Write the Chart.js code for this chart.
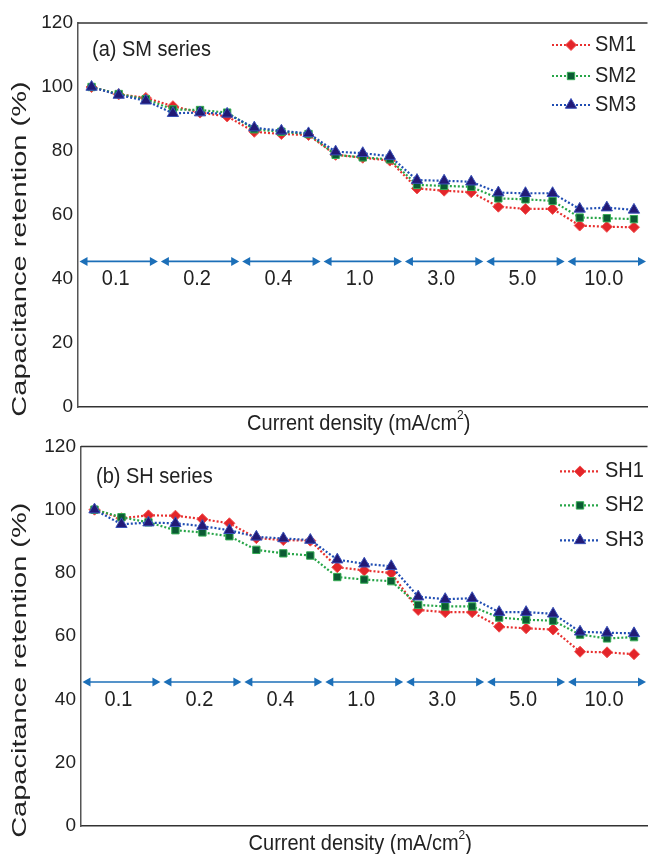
<!DOCTYPE html>
<html>
<head>
<meta charset="utf-8">
<script src="https://cdn.jsdelivr.net/npm/chart.js@4.4.1/dist/chart.umd.min.js"></script>
<style>
  html, body { margin: 0; padding: 0; background: #fff; }
  .panel { position: absolute; left: 0; width: 655px; }
  #p1 { top: 0; height: 445px; z-index: 2; }
  #p2 { top: 430px; height: 424px; z-index: 1; }
</style>
</head>
<body>
<div class="panel" id="p1"><canvas id="c1" width="655" height="445"></canvas></div>
<div class="panel" id="p2"><canvas id="c2" width="655" height="424"></canvas></div>
<script>
// ---- data ----
const densities = ["0.1", "0.2", "0.4", "1.0", "3.0", "5.0", "10.0"];
const cyclesPerDensity = 3;
const yTicks = [0, 20, 40, 60, 80, 100, 120];

const SM1 = [100, 97.7, 96.6, 94.0, 92.0, 90.8, 86.0, 85.3, 85.0, 78.8, 77.9, 77.0, 68.3, 67.6, 67.1, 62.6, 61.9, 61.9, 56.7, 56.3, 56.2];
const SM2 = [100, 97.8, 96.2, 93.0, 92.8, 92.0, 86.8, 86.0, 85.3, 78.8, 78.0, 77.4, 69.4, 69.1, 68.8, 65.2, 64.9, 64.4, 59.2, 59.0, 58.7];
const SM3 = [100, 97.5, 95.7, 91.8, 92.0, 91.6, 87.3, 86.3, 85.5, 79.8, 79.3, 78.4, 70.9, 70.7, 70.4, 67.0, 66.8, 66.8, 61.9, 62.3, 61.6];

const SH1 = [100, 97.3, 98.2, 98.1, 97.0, 95.7, 91.0, 90.4, 90.2, 81.8, 80.8, 80.0, 68.3, 67.6, 67.6, 63.0, 62.5, 62.1, 55.1, 54.9, 54.3];
const SH2 = [100, 97.6, 96.0, 93.5, 92.8, 91.6, 87.3, 86.2, 85.5, 78.7, 77.9, 77.4, 69.9, 69.4, 69.4, 65.9, 65.2, 64.9, 60.5, 59.3, 59.7];
const SH3 = [100, 95.4, 95.9, 95.7, 94.8, 93.5, 91.4, 90.9, 90.4, 84.2, 82.9, 82.1, 72.5, 71.7, 72.0, 67.6, 67.6, 67.1, 61.4, 61.1, 60.9];

const seriesNamesA = ["SM1", "SM2", "SM3"];
const seriesNamesB = ["SH1", "SH2", "SH3"];
const arrowLevel = 45.5;
const densityLabelLevel = 40;

// ---- styles ----
const FONT = '"Liberation Sans", Arial, sans-serif';
const TXT = 20;
const SY = 1.1;
const styles = [
  { line: '#e8302f', fill: '#e3252a', border: '#f0504f', shape: 'rectRot', r: 5.5, order: 3 },
  { line: '#27a548', fill: '#0b5a33', border: '#36ad55', shape: 'rect', r: 5.2, order: 2 },
  { line: '#1f4db3', fill: '#221a76', border: '#3850b8', shape: 'triangle', r: 6.5, order: 1 }
];
const arrowColor = '#1c6fb8';

function makeDatasets(names, arrays) {
  return arrays.map((arr, i) => ({
    label: names[i],
    data: arr.map((v, k) => ({ x: k, y: v })),
    borderColor: styles[i].line,
    borderWidth: 2.2,
    borderDash: [2, 2],
    pointStyle: styles[i].shape,
    pointRadius: styles[i].r,
    pointBackgroundColor: styles[i].fill,
    pointBorderColor: styles[i].border,
    pointBorderWidth: 1,
    tension: 0,
    order: styles[i].order,
    fill: false
  }));
}

function drawMarker(ctx, st, x, y) {
  ctx.save();
  ctx.fillStyle = st.fill;
  ctx.strokeStyle = st.border;
  ctx.lineWidth = 1;
  if (Chart.helpers && Chart.helpers.drawPoint) {
    Chart.helpers.drawPoint(ctx, { pointStyle: st.shape, radius: st.r, rotation: 0, borderWidth: 1 }, x, y);
  }
  ctx.restore();
}

function stretchedText(ctx, text, x, y, align, sy) {
  ctx.save();
  ctx.translate(x, y);
  ctx.scale(1, sy);
  ctx.textAlign = align;
  ctx.textBaseline = 'middle';
  ctx.fillText(text, 0, 0);
  ctx.restore();
}

function panelPlugin(cfg) {
  return {
    id: 'panel' + cfg.tag,
    afterDraw(chart) {
      const ctx = chart.ctx;
      const area = chart.chartArea;
      const xs = chart.scales.x, ys = chart.scales.y;
      ctx.save();
      // top border
      ctx.strokeStyle = '#333';
      ctx.lineWidth = 1.5;
      ctx.beginPath();
      ctx.moveTo(area.left, area.top);
      ctx.lineTo(area.right, area.top);
      ctx.stroke();

      // density arrows
      const ay = ys.getPixelForValue(arrowLevel);
      const ly = ys.getPixelForValue(densityLabelLevel);
      ctx.lineWidth = 1.6;
      densities.forEach((d, k) => {
        ctx.strokeStyle = arrowColor;
        ctx.fillStyle = arrowColor;
        const x0 = xs.getPixelForValue(k * cyclesPerDensity - 0.5) + 1.5;
        const x1 = xs.getPixelForValue(k * cyclesPerDensity + cyclesPerDensity - 0.5) - 1.5;
        ctx.beginPath();
        ctx.moveTo(x0 + 4, ay);
        ctx.lineTo(x1 - 4, ay);
        ctx.stroke();
        ctx.beginPath();
        ctx.moveTo(x0, ay); ctx.lineTo(x0 + 8, ay - 4.5); ctx.lineTo(x0 + 8, ay + 4.5); ctx.closePath();
        ctx.fill();
        ctx.beginPath();
        ctx.moveTo(x1, ay); ctx.lineTo(x1 - 8, ay - 4.5); ctx.lineTo(x1 - 8, ay + 4.5); ctx.closePath();
        ctx.fill();
        ctx.fillStyle = '#222';
        ctx.font = TXT + 'px ' + FONT;
        const cx = xs.getPixelForValue(k * cyclesPerDensity + (cyclesPerDensity - 1) / 2) - 3;
        stretchedText(ctx, d, cx, ly, 'center', SY);
      });

      // panel label
      ctx.fillStyle = '#222';
      ctx.font = TXT + 'px ' + FONT;
      stretchedText(ctx, cfg.title, area.left + cfg.titleDx, area.top + cfg.titleDy, 'left', SY);

      // legend
      chart.data.datasets.forEach((ds, i) => {
        const y = area.top + cfg.legY[i];
        const st = styles[i];
        ctx.strokeStyle = st.line;
        ctx.lineWidth = 2.2;
        ctx.setLineDash([2, 2]);
        ctx.beginPath();
        ctx.moveTo(cfg.legX0, y);
        ctx.lineTo(cfg.legX1, y);
        ctx.stroke();
        ctx.setLineDash([]);
        drawMarker(ctx, st, (cfg.legX0 + cfg.legX1) / 2, y);
        ctx.fillStyle = '#222';
        ctx.font = TXT + 'px ' + FONT;
        stretchedText(ctx, ds.label, cfg.legX1 + 5, y, 'left', SY);
      });

      // x axis title with superscript
      ctx.fillStyle = '#222';
      const main = 'Current density (mA/cm';
      ctx.font = TXT + 'px ' + FONT;
      const wMain = ctx.measureText(main).width;
      ctx.font = '12px ' + FONT;
      const wSup = ctx.measureText('2').width;
      ctx.font = TXT + 'px ' + FONT;
      const wEnd = ctx.measureText(')').width;
      const total = wMain + wSup + wEnd;
      let tx = (area.left + area.right) / 2 - total / 2 - 4;
      const ty = area.bottom + cfg.xTitleDy;
      stretchedText(ctx, main, tx, ty, 'left', SY);
      ctx.font = '12px ' + FONT;
      stretchedText(ctx, '2', tx + wMain, ty - 9, 'left', SY);
      ctx.font = TXT + 'px ' + FONT;
      stretchedText(ctx, ')', tx + wMain + wSup, ty, 'left', SY);

      // y axis title (rotated)
      ctx.save();
      ctx.translate(cfg.yTitleX, (area.top + area.bottom) / 2 + cfg.yTitleDy);
      ctx.rotate(-Math.PI / 2);
      ctx.scale(1.45, 1);
      ctx.font = TXT + 'px ' + FONT;
      ctx.textAlign = 'center';
      ctx.textBaseline = 'middle';
      ctx.fillText('Capacitance retention (%)', 0, 0);
      ctx.restore();

      ctx.restore();
    }
  };
}

function makeChart(canvasId, names, arrays, cfg) {
  const nPts = densities.length * cyclesPerDensity;
  return new Chart(document.getElementById(canvasId), {
    type: 'line',
    data: { datasets: makeDatasets(names, arrays) },
    options: {
      responsive: false,
      animation: false,
      events: [],
      layout: { padding: { top: cfg.padTop, right: 0, bottom: 0, left: 0 } },
      plugins: { legend: { display: false }, tooltip: { enabled: false }, title: { display: false } },
      scales: {
        x: {
          type: 'linear',
          min: -0.5,
          max: nPts - 0.5,
          ticks: { display: false },
          grid: { display: false, drawTicks: false },
          border: { display: true, color: '#333', width: 1.5 },
          afterFit(s) { s.height = cfg.xAxisH; }
        },
        y: {
          min: 0,
          max: 120,
          afterBuildTicks(s) { s.ticks = yTicks.map(v => ({ value: v })); },
          ticks: { color: '#222', font: { family: FONT, size: 19 }, padding: 5 },
          grid: { display: false, drawTicks: false },
          border: { display: true, color: '#555', width: 1.5 },
          afterFit(s) { s.width = cfg.yAxisW; }
        }
      }
    },
    plugins: [panelPlugin(cfg)]
  });
}

makeChart('c1', seriesNamesA, [SM1, SM2, SM3], {
  tag: 'a', title: '(a) SM series', padTop: 23, xAxisH: 38, yAxisW: 78,
  titleDx: 14, titleDy: 27,
  legX0: 552, legX1: 590, legY: [22, 53, 82],
  xTitleDy: 17, yTitleX: 20, yTitleDy: 34
});
makeChart('c2', seriesNamesB, [SH1, SH2, SH3], {
  tag: 'b', title: '(b) SH series', padTop: 11, xAxisH: 28, yAxisW: 81,
  titleDx: 15, titleDy: 31,
  legX0: 560, legX1: 600, legY: [25, 59, 94],
  xTitleDy: 18, yTitleX: 20, yTitleDy: 34
});
</script>
</body>
</html>
